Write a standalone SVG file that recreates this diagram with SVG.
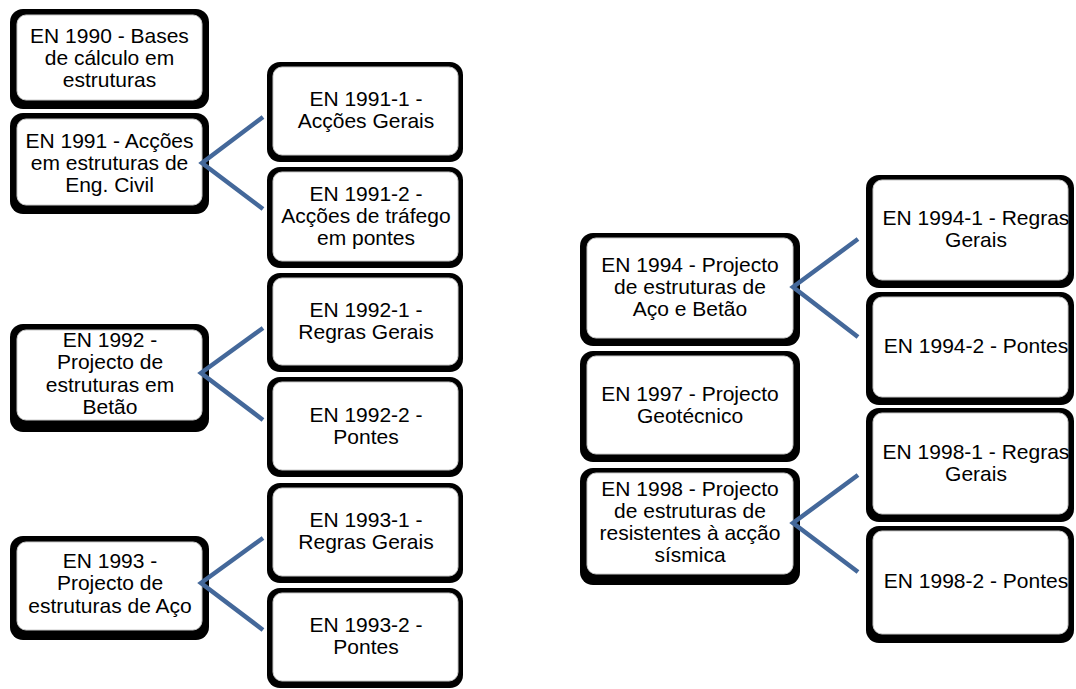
<svg xmlns="http://www.w3.org/2000/svg" width="1076" height="689" viewBox="0 0 1076 689">
<style>
.o{fill:#000;}
.i{fill:#fff;stroke:#c8c8c8;stroke-width:1;}
text{font-family:"Liberation Sans",Arial,sans-serif;font-size:21px;fill:#000;text-anchor:middle;}
.c{fill:none;stroke:#44689a;stroke-width:4.5;stroke-linejoin:miter;}
</style>
<rect width="1076" height="689" fill="#fff"/>
<g id="en1990"><rect class="o" x="10" y="9" width="199" height="100" rx="13"/><rect class="i" x="17" y="15" width="185" height="85" rx="9"/>
<text x="109.5" y="43">EN 1990 - Bases</text><text x="109.5" y="65">de cálculo em</text><text x="109.5" y="87">estruturas</text></g>
<g id="en1991"><rect class="o" x="10" y="113" width="199" height="101" rx="13"/><rect class="i" x="17" y="119" width="185" height="86" rx="9"/>
<text x="109.5" y="148">EN 1991 - Acções</text><text x="109.5" y="170">em estruturas de</text><text x="109.5" y="192">Eng. Civil</text></g>
<g id="en1992"><rect class="o" x="10" y="324" width="199" height="108" rx="13"/><rect class="i" x="17" y="330" width="185" height="90" rx="9"/>
<text x="110" y="347">EN 1992 -</text><text x="110" y="369">Projecto de</text><text x="110" y="392">estruturas em</text><text x="110" y="414">Betão</text></g>
<g id="en1993"><rect class="o" x="10" y="536" width="199" height="104" rx="13"/><rect class="i" x="17" y="542" width="185" height="88" rx="9"/>
<text x="110" y="568">EN 1993 -</text><text x="110" y="590">Projecto de</text><text x="110" y="613">estruturas de Aço</text></g>

<g id="en1991-1"><rect class="o" x="267" y="62" width="196" height="100" rx="13"/><rect class="i" x="273" y="67" width="185" height="88" rx="9"/>
<text x="366" y="106">EN 1991-1 -</text><text x="366" y="128">Acções Gerais</text></g>
<g id="en1991-2"><rect class="o" x="267" y="167" width="196" height="101" rx="13"/><rect class="i" x="273" y="172" width="185" height="89" rx="9"/>
<text x="366" y="201">EN 1991-2 -</text><text x="366" y="223">Acções de tráfego</text><text x="366" y="245">em pontes</text></g>
<g id="en1992-1"><rect class="o" x="267" y="273" width="196" height="99" rx="13"/><rect class="i" x="273" y="278" width="185" height="87" rx="9"/>
<text x="366" y="317">EN 1992-1 -</text><text x="366" y="339">Regras Gerais</text></g>
<g id="en1992-2"><rect class="o" x="267" y="377" width="196" height="100" rx="13"/><rect class="i" x="273" y="382" width="185" height="88" rx="9"/>
<text x="366" y="422">EN 1992-2 -</text><text x="366" y="444">Pontes</text></g>
<g id="en1993-1"><rect class="o" x="267" y="483" width="196" height="100" rx="13"/><rect class="i" x="273" y="488" width="185" height="88" rx="9"/>
<text x="366" y="527">EN 1993-1 -</text><text x="366" y="549">Regras Gerais</text></g>
<g id="en1993-2"><rect class="o" x="267" y="588" width="196" height="100" rx="13"/><rect class="i" x="273" y="593" width="185" height="88" rx="9"/>
<text x="366" y="632">EN 1993-2 -</text><text x="366" y="654">Pontes</text></g>

<g id="en1994"><rect class="o" x="580" y="233" width="220" height="113" rx="13"/><rect class="i" x="587" y="238" width="206" height="100" rx="9"/>
<text x="690" y="272">EN 1994 - Projecto</text><text x="690" y="294">de estruturas de</text><text x="690" y="316">Aço e Betão</text></g>
<g id="en1997"><rect class="o" x="580" y="351" width="220" height="111" rx="13"/><rect class="i" x="587" y="356" width="206" height="98" rx="9"/>
<text x="690" y="401">EN 1997 - Projecto</text><text x="690" y="423">Geotécnico</text></g>
<g id="en1998"><rect class="o" x="580" y="468" width="220" height="117" rx="13"/><rect class="i" x="587" y="473" width="206" height="101" rx="9"/>
<text x="690" y="496">EN 1998 - Projecto</text><text x="690" y="518">de estruturas de</text><text x="690" y="540">resistentes à acção</text><text x="690" y="562">sísmica</text></g>

<g id="en1994-1"><rect class="o" x="866" y="175" width="208" height="113" rx="13"/><rect class="i" x="873" y="180" width="195" height="100" rx="9"/>
<text x="976" y="225">EN 1994-1 - Regras</text><text x="976" y="247">Gerais</text></g>
<g id="en1994-2"><rect class="o" x="866" y="292" width="208" height="113" rx="13"/><rect class="i" x="873" y="297" width="195" height="100" rx="9"/>
<text x="976" y="353">EN 1994-2 - Pontes</text></g>
<g id="en1998-1"><rect class="o" x="866" y="408" width="208" height="114" rx="13"/><rect class="i" x="873" y="413" width="195" height="101" rx="9"/>
<text x="976" y="459">EN 1998-1 - Regras</text><text x="976" y="481">Gerais</text></g>
<g id="en1998-2"><rect class="o" x="866" y="526" width="208" height="117" rx="13"/><rect class="i" x="873" y="531" width="195" height="103" rx="9"/>
<text x="976" y="588">EN 1998-2 - Pontes</text></g>

<g id="connectors">
<polyline class="c" points="263,117 202,163 263,209"/>
<polyline class="c" points="263,328 201,373 263,420"/>
<polyline class="c" points="263,538 201,583 263,630"/>
<polyline class="c" points="858,239 793,287 858,337"/>
<polyline class="c" points="858,475 793,523 858,572"/>
</g>
</svg>
